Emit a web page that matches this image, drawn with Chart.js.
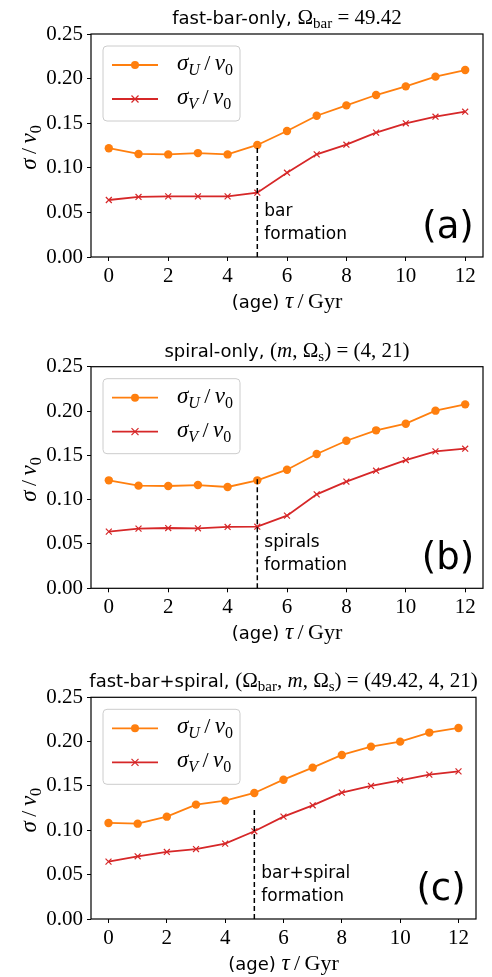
<!DOCTYPE html>
<html>
<head>
<meta charset="utf-8">
<script src="https://cdn.jsdelivr.net/npm/chart.js@4.4.1/dist/chart.umd.min.js"></script>
<style>
  html, body { margin: 0; padding: 0; background: #fff; }
  body { width: 492px; height: 977px; position: relative; overflow: hidden; }
  canvas { position: absolute; left: 0; }
</style>
</head>
<body>
<canvas id="pa" width="492" height="325" style="top:0px"></canvas>
<canvas id="pb" width="492" height="325" style="top:325px"></canvas>
<canvas id="pc" width="492" height="327" style="top:650px"></canvas>
<script>
// ages (Gyr) and tick values
const ages = [0, 1, 2, 3, 4, 5, 6, 7, 8, 9, 10, 11, 12];
const xTicks = [0, 2, 4, 6, 8, 10, 12];
const yTicks = [0, 0.05, 0.10, 0.15, 0.20, 0.25];

// (a) fast-bar-only
const sigU_a = [0.122, 0.1155, 0.115, 0.1165, 0.115, 0.1256, 0.1413, 0.1584, 0.170, 0.1816, 0.1913, 0.2022, 0.2096];
const sigV_a = [0.0639, 0.0673, 0.068, 0.068, 0.068, 0.0721, 0.0945, 0.1151, 0.1259, 0.1394, 0.1499, 0.1573, 0.1629];
// (b) spiral-only
const sigU_b = [0.1218, 0.1158, 0.1154, 0.1165, 0.1143, 0.1218, 0.1338, 0.1515, 0.1665, 0.1782, 0.1857, 0.2004, 0.2075];
const sigV_b = [0.0639, 0.0673, 0.068, 0.0677, 0.0692, 0.0695, 0.082, 0.106, 0.1203, 0.1327, 0.1447, 0.1545, 0.1575];
// (c) fast-bar+spiral
const sigU_c = [0.1083, 0.1075, 0.1154, 0.129, 0.1335, 0.1421, 0.1571, 0.1707, 0.185, 0.1944, 0.2, 0.2102, 0.2154];
const sigV_c = [0.0647, 0.0707, 0.0756, 0.0789, 0.085, 0.0989, 0.1154, 0.1282, 0.1425, 0.15, 0.1564, 0.1628, 0.1665];

// formation epoch marker
const formAge = 5;
const dashTop = { a: 0.1256, b: 0.123, c: 0.125 };

const ORANGE = '#ff7f0e', RED = '#d62728';
const SANS = '"DejaVu Sans"', SERIF = '"Liberation Serif"';
const M = '21px ' + SERIF, MI = 'italic 21px ' + SERIF;
const S = '15px ' + SERIF, SI = 'italic 15px ' + SERIF;
const L = '22px ' + SERIF, LI = 'italic 23px ' + SERIF, LS = '16px ' + SERIF, LSI = 'italic 16px ' + SERIF;
const T = '18px ' + SANS;
const SL = '\u2009/\u2009';

function rich(ctx, parts, x, y, align) {
  let w = 0;
  for (const p of parts) { ctx.font = p[1]; w += ctx.measureText(p[0]).width; }
  let cx = align === 'center' ? x - w / 2 : x;
  ctx.textAlign = 'left'; ctx.textBaseline = 'alphabetic';
  for (const p of parts) {
    ctx.font = p[1];
    ctx.fillText(p[0], cx, y + (p[2] || 0));
    cx += ctx.measureText(p[0]).width;
  }
}

const labU = [['σ', LI], ['U', LSI, 5], [SL, L], ['v', LI], ['0', LS, 5]];
const labV = [['σ', LI], ['V', LSI, 5], [SL, L], ['v', LI], ['0', LS, 5]];

function decor(opt) {
  return {
    id: 'decor',
    afterDraw(chart) {
      const ctx = chart.ctx, ca = chart.chartArea;
      const xs = chart.scales.x;
      ctx.save();
      ctx.fillStyle = '#000';
      // frame
      ctx.strokeStyle = '#000'; ctx.lineWidth = 1.2;
      ctx.strokeRect(ca.left, ca.top, ca.right - ca.left, ca.bottom - ca.top);
      // title
      rich(ctx, opt.title, (ca.left + ca.right) / 2, ca.top - 10, 'center');
      // x title
      rich(ctx, [['(age) ', T], ['τ', LI], [SL, L], ['Gyr', L]], (ca.left + ca.right) / 2, ca.bottom + 51, 'center');
      // y title
      ctx.save();
      ctx.translate(36, (ca.top + ca.bottom) / 2 + 2);
      ctx.rotate(-Math.PI / 2);
      rich(ctx, [['σ', LI], [SL, L], ['v', LI], ['0', LS, 5]], 0, 0, 'center');
      ctx.restore();
      // annotation
      const nx = xs.getPixelForValue(formAge) + 7;
      ctx.font = '17px ' + SANS; ctx.textAlign = 'left'; ctx.textBaseline = 'alphabetic';
      ctx.fillText(opt.note, nx, ca.bottom - 41);
      ctx.fillText('formation', nx, ca.bottom - 18);
      // panel letter
      ctx.font = '37px ' + SANS; ctx.textAlign = 'center'; ctx.textBaseline = 'middle';
      ctx.fillText(opt.letter, ca.right - 35, ca.bottom - 29);
      // legend
      const bx = ca.left + 12, by = ca.top + 12;
      ctx.beginPath();
      ctx.roundRect(bx, by, 137, 75, 4);
      ctx.fillStyle = 'rgba(255,255,255,0.8)'; ctx.fill();
      ctx.strokeStyle = '#cccccc'; ctx.lineWidth = 1; ctx.stroke();
      const rows = [[ca.top + 31, ORANGE, 'circle', labU], [ca.top + 65, RED, 'cross', labV]];
      for (const [ry, col, mk, lab] of rows) {
        ctx.strokeStyle = col; ctx.lineWidth = 1.8;
        ctx.beginPath(); ctx.moveTo(ca.left + 21, ry); ctx.lineTo(ca.left + 67, ry); ctx.stroke();
        const mx = ca.left + 44;
        if (mk === 'circle') {
          ctx.fillStyle = col; ctx.beginPath(); ctx.arc(mx, ry, 4, 0, 2 * Math.PI); ctx.fill();
        } else {
          ctx.lineWidth = 1.2; ctx.beginPath();
          ctx.moveTo(mx - 3.5, ry - 3.5); ctx.lineTo(mx + 3.5, ry + 3.5);
          ctx.moveTo(mx + 3.5, ry - 3.5); ctx.lineTo(mx - 3.5, ry + 3.5); ctx.stroke();
        }
        ctx.fillStyle = '#000';
        rich(ctx, lab, ca.left + 86, ry + 5, 'left');
      }
      ctx.restore();
    }
  };
}

function makePanel(id, U, V, top, caTop, caBottom, right, opt) {
  const el = document.getElementById(id);
  const H = el.height;
  const pts = arr => ages.map((a, i) => ({ x: a, y: arr[i] }));
  return new Chart(el, {
    type: 'line',
    data: {
      datasets: [
        { data: [{ x: formAge, y: 0 }, { x: formAge, y: top }], borderColor: '#000', borderWidth: 1.5,
          borderDash: [5, 3], pointRadius: 0, order: 0 },
        { data: pts(U), borderColor: ORANGE, backgroundColor: ORANGE, borderWidth: 1.8,
          pointStyle: 'circle', pointRadius: 4.2, pointBorderWidth: 0, order: 1 },
        { data: pts(V), borderColor: RED, backgroundColor: RED, borderWidth: 1.8,
          pointStyle: 'crossRot', pointRadius: 4.2, pointBorderWidth: 1.2, order: 2 }
      ]
    },
    options: {
      responsive: false, animation: false, events: [],
      layout: { padding: { left: 0, top: caTop, right: 492 - right, bottom: 0 } },
      elements: { line: { tension: 0 } },
      plugins: { legend: { display: false }, tooltip: { enabled: false } },
      scales: {
        x: {
          type: 'linear', min: -0.6, max: 12.6,
          afterBuildTicks: s => { s.ticks = xTicks.map(v => ({ value: v })); },
          afterFit: s => { s.height = H - caBottom; },
          grid: { drawOnChartArea: false, drawTicks: true, tickLength: 4, color: '#000' },
          border: { display: false },
          ticks: { color: '#000', padding: 3, maxRotation: 0, font: { family: 'Liberation Serif', size: 21 } }
        },
        y: {
          type: 'linear', min: 0, max: 0.25,
          afterBuildTicks: s => { s.ticks = yTicks.map(v => ({ value: v })); },
          afterFit: s => { s.width = 91; },
          grid: { drawOnChartArea: false, drawTicks: true, tickLength: 4, color: '#000' },
          border: { display: false },
          ticks: { color: '#000', padding: 4, callback: v => Number(v).toFixed(2),
                   font: { family: 'Liberation Serif', size: 21 } }
        }
      }
    },
    plugins: [decor(opt)]
  });
}

makePanel('pa', sigU_a, sigV_a, dashTop.a, 34, 257, 483, {
  title: [['fast-bar-only, ', T], ['Ω', M], ['bar', S, 4], [' = 49.42', M]],
  note: 'bar', letter: '(a)'
});
makePanel('pb', sigU_b, sigV_b, dashTop.b, 41.7, 263.3, 483, {
  title: [['spiral-only, ', T], ['(', M], ['m', MI], [', Ω', M], ['s', S, 4], [') = (4, 21)', M]],
  note: 'spirals', letter: '(b)'
});
makePanel('pc', sigU_c, sigV_c, dashTop.c, 47.3, 269, 476, {
  title: [['fast-bar+spiral, ', T], ['(Ω', M], ['bar', S, 4], [', ', M], ['m', MI], [', Ω', M], ['s', S, 4],
          [') = (49.42, 4, 21)', M]],
  note: 'bar+spiral', letter: '(c)'
});
</script>
</body>
</html>
